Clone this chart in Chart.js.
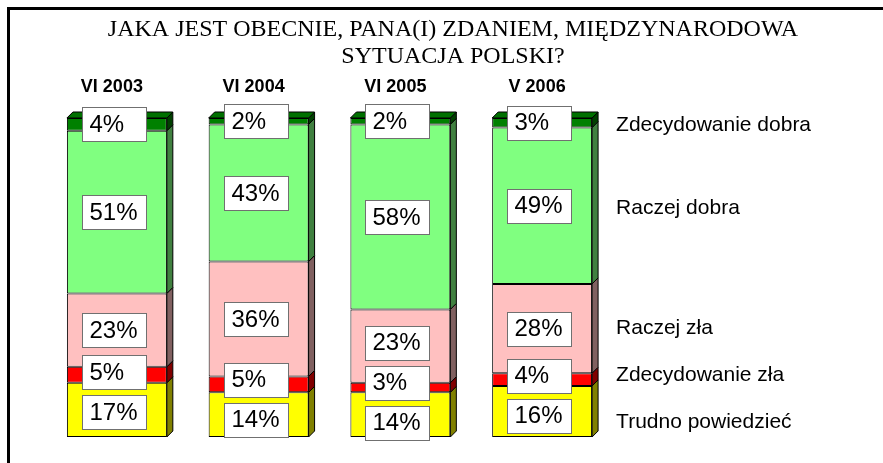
<!DOCTYPE html>
<html>
<head>
<meta charset="utf-8">
<script src="https://cdn.jsdelivr.net/npm/chart.js@4/dist/chart.umd.min.js"></script>
<style>
html,body{margin:0;padding:0;background:#fff;}
#wrap{width:883px;height:463px;position:relative;}
</style>
</head>
<body>
<div id="wrap"><canvas id="c" width="883" height="463"></canvas></div>
<script>
// ---- data ----
const categories = ['VI 2003', 'VI 2004', 'VI 2005', 'V 2006'];
const trudnoPowiedziec = [17, 14, 14, 16];
const zdecydowanieZla = [5, 5, 3, 4];
const raczejZla = [23, 36, 23, 28];
const raczejDobra = [51, 43, 58, 49];
const zdecydowanieDobra = [4, 2, 2, 3];
const seriesNames = ['Trudno powiedzieć', 'Zdecydowanie zła', 'Raczej zła', 'Raczej dobra', 'Zdecydowanie dobra'];
const titleLines = ['JAKA JEST OBECNIE, PANA(I) ZDANIEM, MIĘDZYNARODOWA', 'SYTUACJA POLSKI?'];

// ---- style ----
const frontColors = ['#FFFF00', '#FF0000', '#FFC0C0', '#80FF80', '#008000'];
const sideColors  = ['#808000', '#800000', '#806060', '#408040', '#004000'];
const topColors   = ['#E0E000', '#E00000', '#E0A8A8', '#70E070', '#007000'];
const DEPTH = 6;
const BOX_W = 64, BOX_H = 34, BOX_GAP = 6;

const seriesValues = [trudnoPowiedziec, zdecydowanieZla, raczejZla, raczejDobra, zdecydowanieDobra];

function resolve(centers, minDist) {
  // centers ordered bottom -> top (decreasing y)
  const c = centers.slice();
  for (let it = 0; it < 20; it++) {
    let moved = false;
    for (let i = 0; i < c.length - 1; i++) {
      const d = c[i] - c[i + 1];
      if (d < minDist) {
        const push = (minDist - d) / 2;
        c[i] += push; c[i + 1] -= push; moved = true;
      }
    }
    if (!moved) break;
  }
  return c;
}

const deco = {
  id: 'deco',
  afterDatasetsDraw(chart) {
    const ctx = chart.ctx;
    const n = chart.data.datasets.length;
    ctx.save();
    ctx.lineWidth = 1;
    ctx.strokeStyle = '#000';
    // 3D side and top faces
    for (let d = 0; d < n; d++) {
      const meta = chart.getDatasetMeta(d);
      meta.data.forEach((bar) => {
        const p = bar.getProps(['x', 'y', 'base', 'width'], true);
        const l = p.x - p.width / 2, r = p.x + p.width / 2;
        const t = Math.min(p.y, p.base), b = Math.max(p.y, p.base);
        ctx.beginPath();
        ctx.moveTo(r, t); ctx.lineTo(r + DEPTH, t - DEPTH);
        ctx.lineTo(r + DEPTH, b - DEPTH); ctx.lineTo(r, b); ctx.closePath();
        ctx.fillStyle = sideColors[d]; ctx.fill(); ctx.stroke();
        if (d === n - 1) {
          ctx.beginPath();
          ctx.moveTo(l, t); ctx.lineTo(l + DEPTH, t - DEPTH);
          ctx.lineTo(r + DEPTH, t - DEPTH); ctx.lineTo(r, t); ctx.closePath();
          ctx.fillStyle = topColors[d]; ctx.fill(); ctx.stroke();
        }
      });
    }
    // value labels
    ctx.font = '24px "Liberation Sans", Arial, sans-serif';
    ctx.textBaseline = 'middle';
    ctx.textAlign = 'left';
    const nb = chart.data.labels.length;
    for (let i = 0; i < nb; i++) {
      const centers = [];
      let xc = 0;
      for (let d = 0; d < n; d++) {
        const p = chart.getDatasetMeta(d).data[i].getProps(['x', 'y', 'base'], true);
        centers.push((p.y + p.base) / 2);
        xc = p.x;
      }
      const ys = resolve(centers, BOX_H + BOX_GAP);
      for (let d = 0; d < n; d++) {
        const bx = Math.round(xc - 3 - BOX_W / 2) + 0.5;
        const by = Math.round(ys[d] - BOX_H / 2) + 0.5;
        ctx.fillStyle = '#fff';
        ctx.fillRect(bx, by, BOX_W, BOX_H);
        ctx.strokeStyle = '#707070';
        ctx.strokeRect(bx, by, BOX_W, BOX_H);
        ctx.fillStyle = '#000';
        ctx.fillText(chart.data.datasets[d].data[i] + '%', bx + 7, ys[d] + 1);
      }
    }
    ctx.restore();
  },
  afterDraw(chart) {
    const ctx = chart.ctx;
    const xs = chart.scales.x;
    const n = chart.data.datasets.length;
    ctx.save();
    // frame
    ctx.fillStyle = '#000';
    ctx.fillRect(7, 7, chart.width - 7, 3);
    ctx.fillRect(7, 7, 3, chart.height - 7);
    // title
    ctx.font = '24px "Liberation Serif", "Times New Roman", serif';
    ctx.textAlign = 'center';
    ctx.textBaseline = 'middle';
    ctx.fillText(titleLines[0], 453, 30);
    ctx.fillText(titleLines[1], 453, 57);
    // column headers
    ctx.font = 'bold 18px "Liberation Sans", Arial, sans-serif';
    chart.data.labels.forEach((lab, i) => {
      ctx.fillText(lab, xs.getPixelForValue(i) - 5, 87);
    });
    // series names at right, aligned to last column
    const last = chart.data.labels.length - 1;
    const centers = [];
    let right = 0;
    for (let d = 0; d < n; d++) {
      const p = chart.getDatasetMeta(d).data[last].getProps(['x', 'y', 'base', 'width'], true);
      centers.push((p.y + p.base) / 2);
      right = p.x + p.width / 2;
    }
    const ys = resolve(centers, 47);
    ctx.font = '21px "Liberation Sans", Arial, sans-serif';
    ctx.textAlign = 'left';
    for (let d = 0; d < n; d++) {
      ctx.fillText(seriesNames[d], right + DEPTH + 18, ys[d] + 2);
    }
    ctx.restore();
  }
};

new Chart(document.getElementById('c'), {
  type: 'bar',
  data: {
    labels: categories,
    datasets: seriesValues.map((vals, d) => ({
      label: seriesNames[d],
      data: vals,
      backgroundColor: frontColors[d],
      borderColor: '#000',
      borderWidth: 1,
      borderSkipped: false,
      barPercentage: 0.705,
      categoryPercentage: 1.0
    }))
  },
  options: {
    responsive: false,
    animation: false,
    devicePixelRatio: 1,
    layout: { padding: { left: 46, right: 270, top: 118, bottom: 26 } },
    plugins: { legend: { display: false }, tooltip: { enabled: false }, title: { display: false } },
    scales: {
      x: { stacked: true, display: false },
      y: { stacked: true, display: false, min: 0, max: 100 }
    }
  },
  plugins: [deco]
});
</script>
</body>
</html>
